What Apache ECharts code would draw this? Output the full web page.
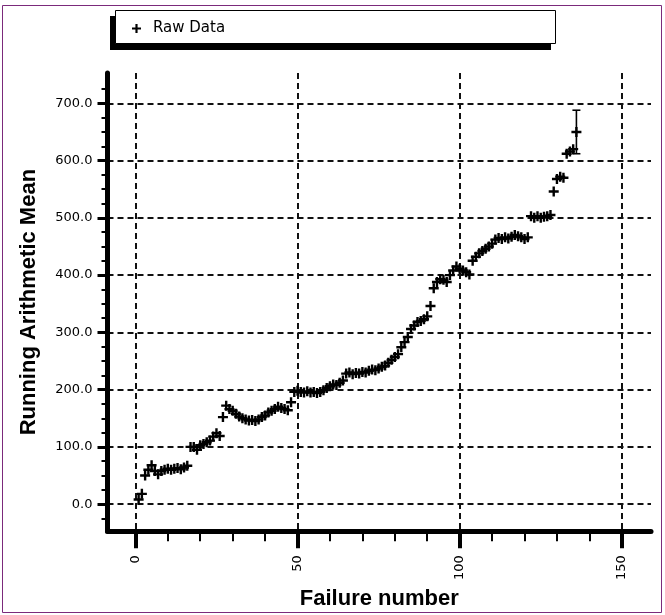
<!DOCTYPE html>
<html>
<head>
<meta charset="utf-8">
<script src="https://cdn.jsdelivr.net/npm/echarts@6/dist/echarts.min.js"></script>
<style>
html,body{margin:0;padding:0;background:#fff;}
#chart{width:665px;height:615px;}
</style>
</head>
<body>
<div id="chart"></div>
<script>
// ---- data ----
var failureNumbers = [];
for (var i = 1; i <= 136; i++) failureNumbers.push(i);
var runningMean = [
  8, 18, 50, 60, 68, 58, 52, 58, 60, 62,
  60, 62, 63, 61, 64, 67, 100, 100, 95, 103,
  105, 108, 111, 118, 124, 119, 152, 172, 166, 163,
  158, 153, 150, 148, 146, 147, 145, 148, 152, 155,
  160, 163, 166, 170, 168, 166, 164, 178, 196, 198,
  196, 195, 197, 195, 196, 194, 196, 199, 203, 206,
  209, 208, 212, 216, 228, 230, 227, 229, 228, 231,
  230, 233, 235, 234, 237, 240, 242, 247, 252, 257,
  262, 274, 283, 292, 306, 312, 318, 320, 323, 328,
  346, 377, 388, 393, 392, 388, 400, 408, 415, 411,
  408, 405, 401, 425, 432, 438, 442, 446, 450, 455,
  462, 465, 463, 466, 464, 467, 470, 468, 466, 463,
  466, 503, 500, 503, 500, 502, 503, 505, 546, 568,
  572, 570, 612, 616, 620, 650
];
var errorBarX = [136];
var errorBarLow = [612];
var errorBarHigh = [688];

var xMajorTicks = [0, 50, 100, 150];
var xMinorTicks = [0, 10, 20, 30, 40, 50, 60, 70, 80, 90, 100, 110, 120, 130, 140, 150];
var yMajorTicks = [0, 100, 200, 300, 400, 500, 600, 700];
var yMinorTicks = [-25, 0, 25, 50, 75, 100, 125, 150, 175, 200, 225, 250, 275, 300, 325, 350,
  375, 400, 425, 450, 475, 500, 525, 550, 575, 600, 625, 650, 675, 700, 725];

var seriesName = 'Raw Data';
var xName = 'Failure number';
var yName = 'Running Arithmetic Mean';

// ---- chart ----
var plusPath = 'path://M3.8,0h2.4v3.8h3.8v2.4h-3.8v3.8h-2.4v-3.8h-3.8v-2.4h3.8z';
var scatterData = failureNumbers.map(function (n, i) { return [n, runningMean[i]]; });
var errData = errorBarX.map(function (x, i) { return [x, errorBarLow[i], errorBarHigh[i]]; });

var gridLine = { show: true, lineStyle: { color: '#111', width: 2, type: [6, 4] } };
var chart = echarts.init(document.getElementById('chart'), null, { renderer: 'canvas' });
chart.setOption({
  animation: false,
  backgroundColor: '#fff',
  graphic: [{
    type: 'rect', silent: true, z: -10,
    shape: { x: 2.5, y: 5.5, width: 659, height: 607 },
    style: { fill: 'none', stroke: '#7b2a7b', lineWidth: 1 }
  }, {
    // legend box drop shadow
    type: 'rect', silent: true, z: 1,
    shape: { x: 110, y: 16, width: 441, height: 34 },
    style: { fill: '#000' }
  }, {
    // legend box
    type: 'rect', silent: true, z: 2,
    shape: { x: 115.5, y: 10.5, width: 440, height: 33 },
    style: { fill: '#fff', stroke: '#000', lineWidth: 1 }
  }],
  legend: {
    left: 115, top: 12, z: 5,
    data: [{ name: seriesName, icon: plusPath }],
    itemWidth: 9, itemHeight: 9,
    padding: [9, 330, 9, 17],
    backgroundColor: 'transparent',
    borderWidth: 0,
    textStyle: { fontFamily: 'DejaVu Sans', fontSize: 15, color: '#000', padding: [0, 0, 0, 7] }
  },
  grid: { left: 107.5, right: 14, top: 73, bottom: 77.5, containLabel: false },
  xAxis: [{
    type: 'value', min: -8.6, max: 159,
    name: xName, nameLocation: 'middle', nameGap: 55,
    nameTextStyle: { fontFamily: 'Liberation Sans', fontWeight: 'bold', fontSize: 22, color: '#000' },
    axisLine: { show: true, onZero: false, lineStyle: { color: '#000', width: 5 } },
    axisTick: { show: true, customValues: xMajorTicks, length: 17, lineStyle: { color: '#000', width: 4 } },
    axisLabel: { show: true, customValues: xMajorTicks, rotate: 90, margin: 24,
      fontFamily: 'DejaVu Sans', fontSize: 13, color: '#000' },
    splitLine: gridLine
  }, {
    type: 'value', min: -8.6, max: 159, position: 'bottom', gridIndex: 0,
    axisLine: { show: false, onZero: false },
    axisTick: { show: true, customValues: xMinorTicks, length: 10, lineStyle: { color: '#000', width: 2 } },
    axisLabel: { show: false },
    splitLine: { show: false }
  }],
  yAxis: [{
    type: 'value', min: -47.4, max: 753,
    name: yName, nameLocation: 'middle', nameGap: 68,
    nameTextStyle: { fontFamily: 'Liberation Sans', fontWeight: 'bold', fontSize: 22, color: '#000' },
    axisLine: { show: true, onZero: false, lineStyle: { color: '#000', width: 5 } },
    axisTick: { show: true, customValues: yMajorTicks, length: 10, lineStyle: { color: '#000', width: 3 } },
    axisLabel: { show: true, customValues: yMajorTicks, margin: 15,
      formatter: function (v) { return v.toFixed(1); },
      fontFamily: 'DejaVu Sans', fontSize: 13, color: '#000' },
    splitLine: gridLine
  }, {
    type: 'value', min: -47.4, max: 753, position: 'left', gridIndex: 0,
    axisLine: { show: false, onZero: false },
    axisTick: { show: true, customValues: yMinorTicks, length: 6, lineStyle: { color: '#000', width: 2 } },
    axisLabel: { show: false },
    splitLine: { show: false }
  }],
  series: [{
    name: seriesName, type: 'scatter',
    xAxisIndex: 0, yAxisIndex: 0,
    symbol: plusPath, symbolSize: 10,
    itemStyle: { color: '#000', opacity: 1 },
    data: scatterData
  }, {
    type: 'custom', xAxisIndex: 0, yAxisIndex: 0,
    data: errData,
    renderItem: function (params, api) {
      var x = api.value(0);
      var lo = api.coord([x, api.value(1)]);
      var hi = api.coord([x, api.value(2)]);
      var w = 4;
      var st = { stroke: '#000', lineWidth: 1.6 };
      return { type: 'group', children: [
        { type: 'line', shape: { x1: lo[0], y1: lo[1], x2: hi[0], y2: hi[1] }, style: st },
        { type: 'line', shape: { x1: lo[0] - w, y1: lo[1], x2: lo[0] + w, y2: lo[1] }, style: st },
        { type: 'line', shape: { x1: hi[0] - w, y1: hi[1], x2: hi[0] + w, y2: hi[1] }, style: st }
      ]};
    }
  }]
});
</script>
</body>
</html>
